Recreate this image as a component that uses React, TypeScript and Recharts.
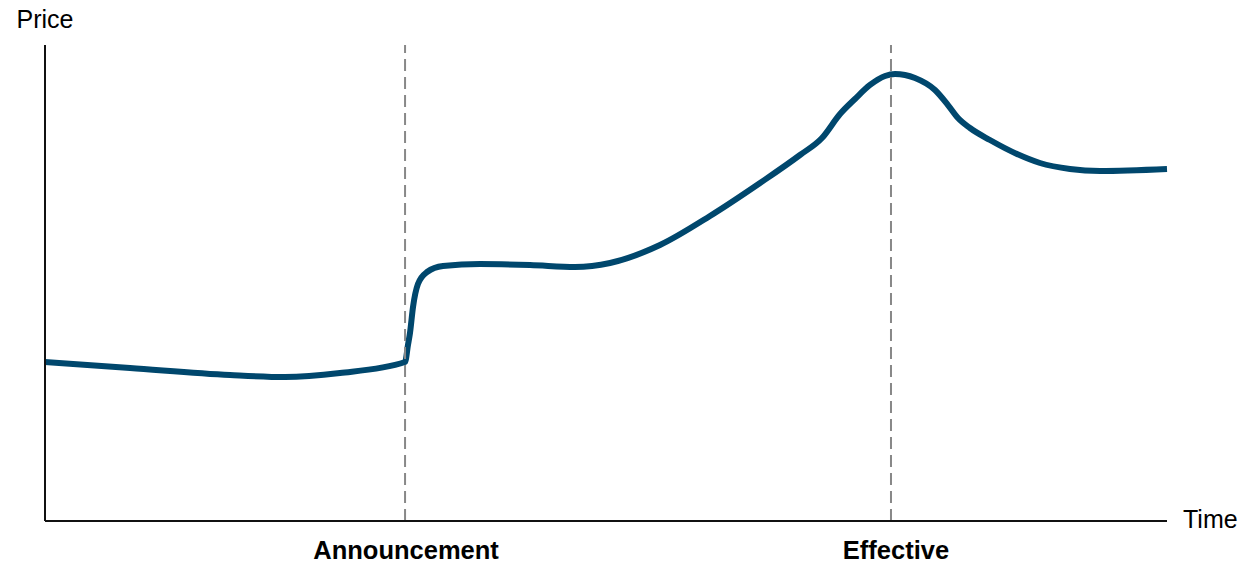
import React from 'react';
import { LineChart, Line, XAxis, YAxis, ReferenceLine } from 'recharts';

// Time runs 0..100 across the chart, price 0..100 from the axis up to the top.
const times = [0, 7.58, 16.49, 21.39, 26.29, 32.09, 32.35, 32.53, 32.8, 33.24, 34.05, 35.47, 38.77, 43.23, 47.24, 50.36, 54.81, 59.27, 63.73, 67.29, 69.25, 70.86, 72.19, 73.53, 74.87, 75.76, 77.54, 79.32, 80.48, 81.37, 82.44, 84.22, 86.63, 88.68, 91.35, 94.03, 100];
const prices = [33.4, 32.14, 30.67, 30.25, 31.09, 33.4, 36.97, 39.5, 44.96, 49.79, 52.31, 53.57, 53.99, 53.78, 53.36, 54.2, 57.98, 64.08, 71.01, 76.89, 80.46, 85.5, 88.66, 91.6, 93.49, 93.91, 93.07, 90.55, 87.39, 84.66, 82.56, 80.04, 77.1, 75.21, 73.95, 73.53, 73.95];

const eventTimes = [32.09, 75.4];
const eventLabels = ['Announcement', 'Effective'];

const data = times.map((t, i) => ({ t, price: prices[i] }));

const LINE_COLOR = '#00476d';

const EventTick = (props: any) => {
  const { x, y, payload } = props;
  const idx = eventTimes.indexOf(payload.value);
  const shift = idx === 1 ? 5 : 1;
  return (
    <text
      x={x + shift}
      y={y}
      dy="0.71em"
      textAnchor="middle"
      fontSize={25.5}
      fontWeight="bold"
      fill="#000"
    >
      {eventLabels[idx]}
    </text>
  );
};

export default function App() {
  return (
    <div
      style={{
        position: 'absolute',
        left: 0,
        top: 0,
        width: 1258,
        height: 563,
        background: '#fff',
        fontFamily: '"Liberation Sans", Arial, sans-serif',
      }}
    >
      <LineChart
        width={1258}
        height={563}
        data={data}
        margin={{ top: 45, right: 91, bottom: 0, left: 45 }}
      >
        <XAxis
          dataKey="t"
          type="number"
          domain={[0, 100]}
          ticks={eventTimes}
          tick={<EventTick />}
          tickLine={false}
          tickSize={0}
          tickMargin={20}
          axisLine={false}
          height={42}
          interval={0}
        />
        <YAxis type="number" domain={[0, 100]} hide />
        <Line
          type="monotone"
          dataKey="price"
          stroke={LINE_COLOR}
          strokeWidth={6}
          dot={false}
          isAnimationActive={false}
        />
        {eventTimes.map((t) => (
          <ReferenceLine
            key={t}
            x={t}
            stroke="#888"
            strokeWidth={2}
            strokeDasharray="12 6"
          />
        ))}
        <ReferenceLine
          y={0}
          stroke="#111"
          strokeWidth={2}
          label={{ value: 'Time', position: 'right', offset: 16, fontSize: 25, fill: '#000', dy: -2 }}
        />
        <ReferenceLine
          x={0}
          stroke="#111"
          strokeWidth={2}
          label={{ value: 'Price', position: 'top', offset: 17, fontSize: 25, fill: '#000' }}
        />
      </LineChart>
    </div>
  );
}
